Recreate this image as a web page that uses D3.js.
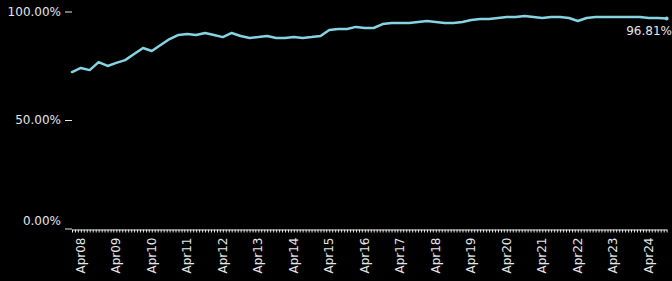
<!DOCTYPE html>
<html>
<head>
<meta charset="utf-8">
<script src="https://cdn.jsdelivr.net/npm/d3@7"></script>
<style>
  body { margin: 0; background: #000; }
  svg { display: block; }
  text { font-family: "DejaVu Sans", sans-serif; font-size: 12px; fill: #e6e6e6; }
</style>
</head>
<body>
<svg id="chart" width="672" height="281"></svg>
<script>
// quarterly readings, Jan 2008 .. Oct 2024
const startDate = new Date(2008, 0, 1)
const values = [
  72.1, 74.0, 73.0, 76.7, 74.9, 76.3, 77.6, 80.4,
  83.2, 81.8, 84.6, 87.3, 89.2, 89.6, 89.2, 90.1,
  89.2, 88.2, 90.1, 88.7, 87.8, 88.2, 88.7, 87.8,
  87.8, 88.2, 87.8, 88.2, 88.7, 91.5, 91.9, 91.9,
  92.9, 92.4, 92.4, 94.2, 94.7, 94.7, 94.7, 95.2,
  95.6, 95.2, 94.7, 94.7, 95.2, 96.1, 96.5, 96.5,
  97.0, 97.5, 97.5, 97.9, 97.5, 97.0, 97.5, 97.5,
  97.0, 95.6, 97.0, 97.5, 97.5, 97.5, 97.5, 97.5,
  97.5, 97.0, 97.0, 96.81
]
const yTicks = [0, 50, 100]
const labelMonth = 3 // April

const lineColor = '#86d3e2'
const inkColor = '#e6e6e6'

const dates = values.map((v, i) => d3.timeMonth.offset(startDate, i * 3))
const data = values.map((v, i) => ({date: dates[i], value: v}))

const svg = d3.select('#chart')

const x = d3.scaleTime()
  .domain([dates[0], dates[dates.length - 1]])
  .range([72, 666.6])

const y = d3.scaleLinear()
  .domain([0, 100])
  .range([228.5, 11.5])

// y axis
const yAxis = svg.append('g')
  .attr('transform', 'translate(72,0)')
  .call(d3.axisLeft(y).tickValues(yTicks).tickSize(7).tickPadding(4)
    .tickFormat(d => d3.format('.2f')(d) + '%'))
yAxis.select('.domain').remove()
yAxis.selectAll('line').attr('stroke', inkColor)
yAxis.selectAll('text').attr('fill', inkColor)
// bottom label sits a little above the axis
yAxis.selectAll('.tick text')
  .filter(d => d === 0)
  .attr('dy', '-0.3em')

// x axis, one tick a month
const months = d3.timeMonth.range(dates[0], d3.timeMonth.offset(dates[dates.length - 1], 1))
const xAxis = svg.append('g')
  .attr('transform', `translate(0,${y(0) + 1})`)
  .call(d3.axisBottom(x).tickValues(months).tickSize(3).tickSizeOuter(0)
    .tickFormat(d => d.getMonth() === labelMonth ? d3.timeFormat('Apr%y')(d) : ''))
xAxis.select('.domain').attr('stroke', inkColor)
xAxis.selectAll('line').attr('stroke', inkColor)
xAxis.selectAll('text')
  .attr('fill', inkColor)
  .attr('transform', 'rotate(-90)')
  .attr('text-anchor', 'end')
  .attr('x', -8)
  .attr('y', 0)
  .attr('dy', '0.3em')

// line
const line = d3.line()
  .x(d => x(d.date))
  .y(d => y(d.value))

svg.append('path')
  .datum(data)
  .attr('d', line)
  .attr('fill', 'none')
  .attr('stroke', lineColor)
  .attr('stroke-width', 2.5)
  .attr('stroke-linejoin', 'round')
  .attr('stroke-linecap', 'round')

// last value label
const last = data[data.length - 1]
svg.append('circle')
  .attr('cx', x(last.date))
  .attr('cy', y(last.value))
  .attr('r', 2)
  .attr('fill', lineColor)

svg.append('text')
  .attr('x', 672)
  .attr('y', y(last.value) + 17)
  .attr('text-anchor', 'end')
  .text(d3.format('.2f')(last.value) + '%')
</script>
</body>
</html>
